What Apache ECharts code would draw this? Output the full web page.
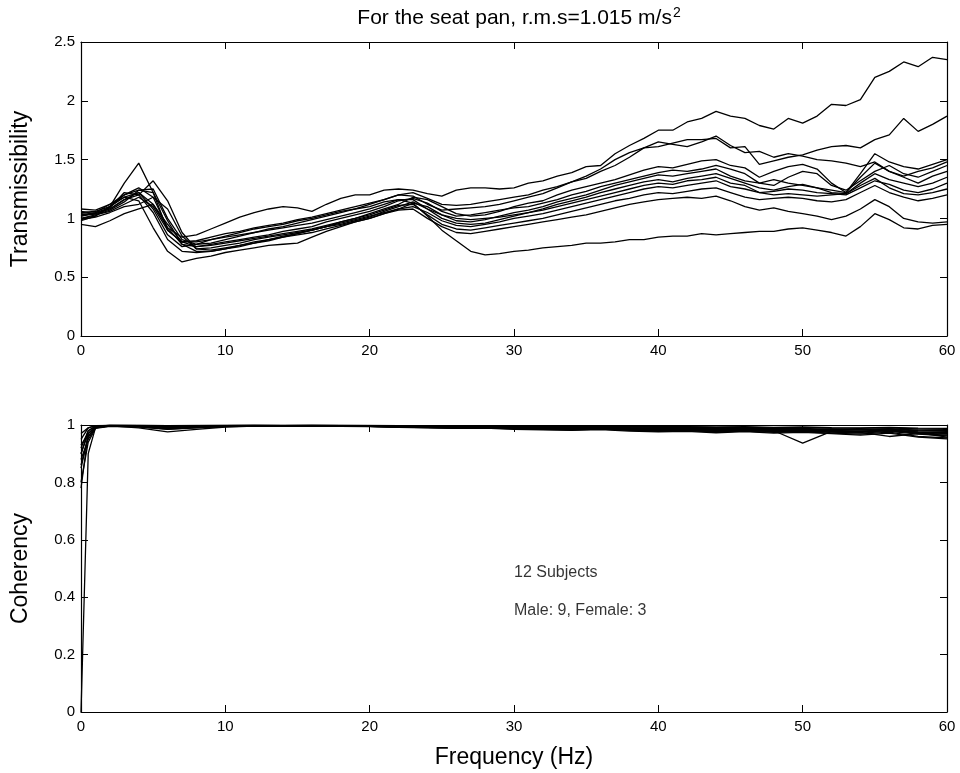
<!DOCTYPE html>
<html>
<head>
<meta charset="utf-8">
<script src="https://cdn.jsdelivr.net/npm/echarts@6/dist/echarts.min.js"></script>
<style>html,body{margin:0;padding:0;background:#fff}#c{width:960px;height:773px}</style>
</head>
<body>
<div id="c"></div>
<script>
// Frequency grid of the transmissibility curves (Hz)
const freq = [0,1,2,3,4,5,6,7,8,9,10,11,12,13,14,15,16,17,18,19,20,21,22,23,24,25,26,27,28,29,30,31,32,33,34,35,36,37,38,39,40,41,42,43,44,45,46,47,48,49,50,51,52,53,54,55,56,57,58,59,60];

// Transmissibility, one array per subject
const t1 = [1.05,1.06,1.10,1.18,1.22,1.12,0.92,0.84,0.86,0.91,0.96,1.01,1.05,1.08,1.10,1.09,1.06,1.12,1.17,1.20,1.20,1.24,1.25,1.24,1.21,1.19,1.24,1.26,1.26,1.25,1.26,1.30,1.32,1.36,1.39,1.44,1.45,1.55,1.62,1.68,1.75,1.75,1.82,1.85,1.91,1.87,1.85,1.79,1.76,1.85,1.81,1.87,1.97,1.96,2.01,2.20,2.25,2.33,2.29,2.37,2.35];
const t2 = [1.00,1.02,1.10,1.30,1.47,1.22,0.90,0.80,0.81,0.84,0.87,0.89,0.92,0.94,0.96,0.99,1.01,1.04,1.07,1.10,1.13,1.16,1.20,1.19,1.12,1.07,1.08,1.09,1.10,1.12,1.15,1.18,1.21,1.26,1.31,1.36,1.42,1.50,1.56,1.60,1.61,1.64,1.67,1.67,1.68,1.60,1.61,1.46,1.49,1.52,1.54,1.58,1.61,1.62,1.60,1.67,1.71,1.85,1.74,1.80,1.87];
const t3 = [1.08,1.07,1.12,1.20,1.24,1.25,1.00,0.82,0.78,0.79,0.82,0.85,0.88,0.91,0.93,0.96,0.99,1.02,1.05,1.08,1.12,1.16,1.20,1.22,1.17,1.12,1.11,1.12,1.14,1.16,1.18,1.20,1.24,1.27,1.31,1.34,1.40,1.45,1.52,1.60,1.65,1.63,1.61,1.65,1.70,1.62,1.56,1.57,1.52,1.55,1.53,1.50,1.49,1.47,1.44,1.48,1.40,1.36,1.40,1.43,1.48];
const t4 = [1.02,1.04,1.08,1.16,1.20,1.32,1.15,0.88,0.74,0.73,0.75,0.77,0.80,0.82,0.84,0.87,0.90,0.93,0.97,1.00,1.04,1.08,1.12,1.18,1.16,1.10,1.04,1.02,1.03,1.06,1.10,1.13,1.15,1.20,1.24,1.27,1.30,1.33,1.37,1.41,1.44,1.43,1.46,1.49,1.50,1.45,1.43,1.35,1.40,1.44,1.46,1.42,1.30,1.22,1.38,1.55,1.48,1.44,1.42,1.46,1.50];
const t5 = [0.98,1.02,1.10,1.20,1.26,1.18,0.92,0.78,0.76,0.78,0.80,0.82,0.84,0.86,0.89,0.91,0.93,0.97,1.00,1.03,1.06,1.10,1.15,1.17,1.13,1.06,1.02,1.03,1.05,1.07,1.09,1.10,1.13,1.16,1.20,1.23,1.27,1.30,1.33,1.36,1.39,1.41,1.40,1.42,1.45,1.42,1.38,1.30,1.28,1.35,1.40,1.38,1.28,1.24,1.32,1.40,1.45,1.38,1.35,1.40,1.45];
const t6 = [1.03,1.05,1.09,1.22,1.20,1.05,0.82,0.72,0.71,0.72,0.74,0.76,0.79,0.81,0.84,0.86,0.88,0.91,0.94,0.97,1.00,1.04,1.08,1.13,1.10,1.03,0.98,0.97,0.99,1.02,1.05,1.07,1.10,1.14,1.17,1.20,1.24,1.28,1.31,1.34,1.37,1.36,1.38,1.40,1.42,1.36,1.32,1.30,1.33,1.30,1.28,1.26,1.24,1.22,1.35,1.47,1.40,1.35,1.30,1.36,1.40];
const t7 = [1.00,1.03,1.07,1.14,1.24,1.22,0.98,0.78,0.72,0.72,0.74,0.77,0.79,0.82,0.85,0.87,0.90,0.93,0.95,0.98,1.01,1.06,1.10,1.14,1.08,1.00,0.96,0.95,0.96,0.99,1.02,1.05,1.08,1.12,1.15,1.18,1.22,1.25,1.28,1.31,1.33,1.31,1.34,1.36,1.38,1.34,1.30,1.26,1.24,1.27,1.29,1.26,1.22,1.21,1.30,1.38,1.33,1.30,1.27,1.30,1.35];
const t8 = [1.04,1.03,1.06,1.12,1.18,1.10,0.90,0.80,0.80,0.82,0.84,0.86,0.88,0.90,0.92,0.94,0.96,0.99,1.02,1.05,1.08,1.12,1.16,1.16,1.08,1.03,1.00,0.99,1.00,1.01,1.03,1.05,1.07,1.10,1.13,1.16,1.19,1.22,1.25,1.28,1.30,1.29,1.32,1.33,1.35,1.30,1.28,1.22,1.23,1.25,1.24,1.22,1.21,1.20,1.26,1.32,1.29,1.24,1.22,1.25,1.30];
const t9 = [0.99,1.01,1.05,1.10,1.12,1.18,1.08,0.85,0.74,0.75,0.77,0.79,0.82,0.84,0.86,0.88,0.90,0.93,0.96,0.99,1.02,1.05,1.08,1.10,1.05,0.98,0.94,0.93,0.95,0.97,1.00,1.02,1.04,1.07,1.10,1.13,1.16,1.19,1.22,1.25,1.27,1.26,1.28,1.30,1.32,1.27,1.25,1.22,1.20,1.21,1.20,1.19,1.20,1.21,1.28,1.34,1.26,1.21,1.20,1.22,1.25];
const t10 = [0.95,0.93,0.98,1.04,1.08,1.12,0.95,0.80,0.76,0.77,0.79,0.81,0.83,0.85,0.87,0.89,0.91,0.94,0.97,1.00,1.03,1.07,1.11,1.12,1.03,0.95,0.91,0.90,0.92,0.94,0.96,0.98,1.00,1.03,1.06,1.09,1.12,1.15,1.17,1.20,1.22,1.21,1.23,1.25,1.26,1.22,1.18,1.16,1.17,1.18,1.17,1.15,1.14,1.16,1.22,1.28,1.22,1.18,1.15,1.17,1.20];
const t11 = [1.02,1.05,1.12,1.18,1.15,0.92,0.72,0.63,0.66,0.68,0.71,0.73,0.75,0.77,0.78,0.79,0.84,0.89,0.93,0.97,1.00,1.04,1.07,1.08,1.00,0.93,0.88,0.87,0.89,0.91,0.93,0.95,0.97,0.99,1.01,1.03,1.06,1.09,1.12,1.14,1.16,1.17,1.18,1.17,1.19,1.15,1.10,1.07,1.09,1.06,1.04,1.02,0.99,1.02,1.08,1.16,1.10,1.00,0.97,0.96,0.97];
const t12 = [1.06,1.04,1.08,1.16,1.22,1.08,0.86,0.76,0.78,0.82,0.85,0.88,0.91,0.93,0.95,0.98,1.00,1.03,1.06,1.08,1.10,1.14,1.16,1.13,1.02,0.90,0.81,0.72,0.69,0.70,0.72,0.73,0.75,0.76,0.77,0.79,0.79,0.80,0.82,0.82,0.84,0.85,0.85,0.87,0.86,0.87,0.88,0.89,0.89,0.91,0.92,0.90,0.88,0.85,0.93,1.04,0.99,0.92,0.91,0.94,0.95];
const transCurves = [t1,t2,t3,t4,t5,t6,t7,t8,t9,t10,t11,t12];

// Frequency grid of the coherency curves (Hz)
const coFreq = [0,0.5,1,2,4,6,8,10,12,14,16,18,20,22,24,26,28,30,32,34,36,38,40,42,44,46,48,50,52,54,56,58,60];

// Coherency, one array per subject
const c1 = [0.00,0.90,0.990,0.998,0.997,0.995,0.996,0.997,0.998,0.997,0.998,0.997,0.996,0.995,0.994,0.992,0.993,0.991,0.990,0.988,0.990,0.987,0.985,0.986,0.983,0.985,0.982,0.984,0.980,0.978,0.982,0.975,0.970];
const c2 = [0.78,0.97,0.995,0.999,0.998,0.992,0.995,0.998,0.999,0.998,0.999,0.998,0.997,0.996,0.996,0.994,0.995,0.993,0.992,0.991,0.992,0.990,0.988,0.989,0.986,0.988,0.985,0.983,0.986,0.982,0.985,0.980,0.978];
const c3 = [0.85,0.96,0.992,0.997,0.990,0.976,0.985,0.993,0.996,0.995,0.997,0.996,0.995,0.993,0.992,0.990,0.991,0.988,0.986,0.984,0.987,0.983,0.980,0.982,0.978,0.981,0.977,0.979,0.975,0.972,0.978,0.968,0.962];
const c4 = [0.90,0.98,0.996,0.999,0.999,0.998,0.998,0.999,0.999,0.999,0.999,0.999,0.998,0.998,0.997,0.996,0.997,0.995,0.995,0.994,0.995,0.993,0.992,0.993,0.991,0.992,0.990,0.991,0.989,0.988,0.990,0.986,0.985];
const c5 = [0.93,0.97,0.993,0.998,0.996,0.990,0.994,0.996,0.998,0.997,0.998,0.997,0.996,0.994,0.993,0.991,0.992,0.990,0.988,0.987,0.989,0.985,0.983,0.985,0.981,0.983,0.980,0.937,0.978,0.976,0.980,0.972,0.968];
const c6 = [0.88,0.95,0.990,0.996,0.995,0.988,0.992,0.995,0.997,0.996,0.997,0.996,0.995,0.993,0.991,0.989,0.990,0.987,0.985,0.983,0.986,0.981,0.978,0.980,0.976,0.979,0.974,0.976,0.972,0.968,0.975,0.960,0.955];
const c7 = [0.95,0.99,0.997,0.999,0.998,0.997,0.997,0.998,0.999,0.998,0.999,0.998,0.998,0.997,0.996,0.995,0.995,0.994,0.993,0.992,0.993,0.991,0.990,0.991,0.988,0.990,0.987,0.988,0.985,0.984,0.987,0.982,0.980];
const c8 = [0.80,0.94,0.988,0.995,0.993,0.985,0.990,0.994,0.996,0.995,0.996,0.995,0.994,0.992,0.990,0.988,0.989,0.985,0.983,0.981,0.984,0.979,0.976,0.978,0.973,0.977,0.972,0.974,0.970,0.965,0.972,0.958,0.952];
const c9 = [0.92,0.98,0.995,0.998,0.997,0.994,0.996,0.997,0.998,0.997,0.998,0.997,0.997,0.995,0.994,0.993,0.993,0.991,0.990,0.989,0.990,0.988,0.986,0.987,0.984,0.986,0.983,0.984,0.981,0.979,0.983,0.976,0.973];
const c10 = [0.97,0.99,0.998,0.999,0.999,0.998,0.999,0.999,0.999,0.999,0.999,0.999,0.999,0.998,0.998,0.997,0.997,0.996,0.996,0.995,0.996,0.995,0.994,0.994,0.993,0.994,0.992,0.993,0.991,0.990,0.992,0.989,0.988];
const c11 = [0.86,0.96,0.991,0.997,0.994,0.986,0.991,0.995,0.997,0.996,0.997,0.996,0.995,0.993,0.992,0.990,0.990,0.988,0.987,0.985,0.987,0.983,0.981,0.982,0.979,0.981,0.978,0.979,0.976,0.974,0.960,0.970,0.965];
const c12 = [0.90,0.97,0.994,0.998,0.996,0.992,0.994,0.996,0.998,0.997,0.998,0.997,0.996,0.995,0.994,0.992,0.992,0.990,0.989,0.988,0.989,0.986,0.984,0.985,0.982,0.984,0.981,0.982,0.979,0.977,0.981,0.973,0.958];
const cohCurves = [c1,c2,c3,c4,c5,c6,c7,c8,c9,c10,c11,c12];

// Tick values
const xTicks = [0,10,20,30,40,50,60];
const transTicks = [0,0.5,1,1.5,2,2.5];
const cohTicks = [0,0.2,0.4,0.6,0.8,1];

const titleText = 'For the seat pan, r.m.s=1.015 m/s';
const note1 = '12 Subjects';
const note2 = 'Male: 9, Female: 3';

const FONT = 'Liberation Sans, Arial, sans-serif';
const chart = echarts.init(document.getElementById('c'), null, {renderer: 'canvas'});

function frameAxis(type, gridIndex, position, show, extra) {
  return Object.assign({
    type: 'value', gridIndex: gridIndex, position: position,
    axisLine: {show: true, onZero: false, lineStyle: {color: '#000', width: 1.2}},
    axisTick: {show: true, inside: true, length: 7, lineStyle: {color: '#000', width: 1}},
    axisLabel: {show: show, color: '#000', fontFamily: FONT, fontSize: 15},
    splitLine: {show: false}
  }, extra);
}

const xCommon = {min: 0, max: 60, interval: 10};
const xAxes = [
  frameAxis('x', 0, 'bottom', true, Object.assign({axisLabel: {show: true, color: '#000', fontFamily: FONT, fontSize: 15, margin: 7}}, xCommon)),
  frameAxis('x', 0, 'top', false, xCommon),
  frameAxis('x', 1, 'bottom', true, Object.assign({
    axisLabel: {show: true, color: '#000', fontFamily: FONT, fontSize: 15, margin: 7},
    name: 'Frequency (Hz)', nameLocation: 'middle', nameGap: 34,
    nameTextStyle: {color: '#000', fontFamily: FONT, fontSize: 23}
  }, xCommon)),
  frameAxis('x', 1, 'top', false, xCommon)
];
const yT = {min: 0, max: 2.5, interval: 0.5};
const yC = {min: 0, max: 1, interval: 0.2};
const yAxes = [
  frameAxis('y', 0, 'left', true, Object.assign({
    axisLabel: {show: true, color: '#000', fontFamily: FONT, fontSize: 15, margin: 6},
    name: 'Transmissibility', nameLocation: 'middle', nameGap: 49, nameRotate: 90,
    nameTextStyle: {color: '#000', fontFamily: FONT, fontSize: 23}
  }, yT)),
  frameAxis('y', 0, 'right', false, yT),
  frameAxis('y', 1, 'left', true, Object.assign({
    axisLabel: {show: true, color: '#000', fontFamily: FONT, fontSize: 15, margin: 6},
    name: 'Coherency', nameLocation: 'middle', nameGap: 49, nameRotate: 90,
    nameTextStyle: {color: '#000', fontFamily: FONT, fontSize: 23}
  }, yC)),
  frameAxis('y', 1, 'right', false, yC)
];

const series = [];
transCurves.forEach(function (vals, i) {
  series.push({
    type: 'line', xAxisIndex: 0, yAxisIndex: 0, name: 'T' + (i + 1),
    data: freq.map(function (f, k) { return [f, vals[k]]; }),
    showSymbol: false, symbol: 'none', silent: true,
    lineStyle: {color: '#000', width: 1.3}, z: 2
  });
});
cohCurves.forEach(function (vals, i) {
  series.push({
    type: 'line', xAxisIndex: 2, yAxisIndex: 2, name: 'C' + (i + 1),
    data: coFreq.map(function (f, k) { return [f, vals[k]]; }),
    showSymbol: false, symbol: 'none', silent: true,
    lineStyle: {color: '#000', width: 1.3}, z: 2
  });
});
// annotation text placed in data coordinates of the coherency plot
series.push({
  type: 'scatter', xAxisIndex: 2, yAxisIndex: 2, silent: true,
  symbolSize: 0, itemStyle: {color: '#000'},
  data: [{value: [30, 0.484], name: note1}, {value: [30, 0.352], name: note2}],
  label: {show: true, position: 'right', distance: 0, formatter: '{b}',
          color: '#000', fontFamily: FONT, fontSize: 16}
});

chart.setOption({
  animation: false,
  backgroundColor: '#fff',
  title: {
    text: '{m|' + titleText + '}{s|2}',
    left: 514, top: 1, textAlign: 'center',
    textStyle: {
      fontWeight: 'normal',
      rich: {
        m: {fontFamily: FONT, fontSize: 21, fontWeight: 'normal', color: '#000'},
        s: {fontFamily: FONT, fontSize: 14, fontWeight: 'normal', color: '#000', padding: [0, 0, 10, 1]}
      }
    }
  },
  grid: [
    {left: 81, right: 13, top: 42, height: 294},
    {left: 81, right: 13, top: 425, height: 287}
  ],
  xAxis: xAxes,
  yAxis: yAxes,
  series: series
});
</script>
</body>
</html>
